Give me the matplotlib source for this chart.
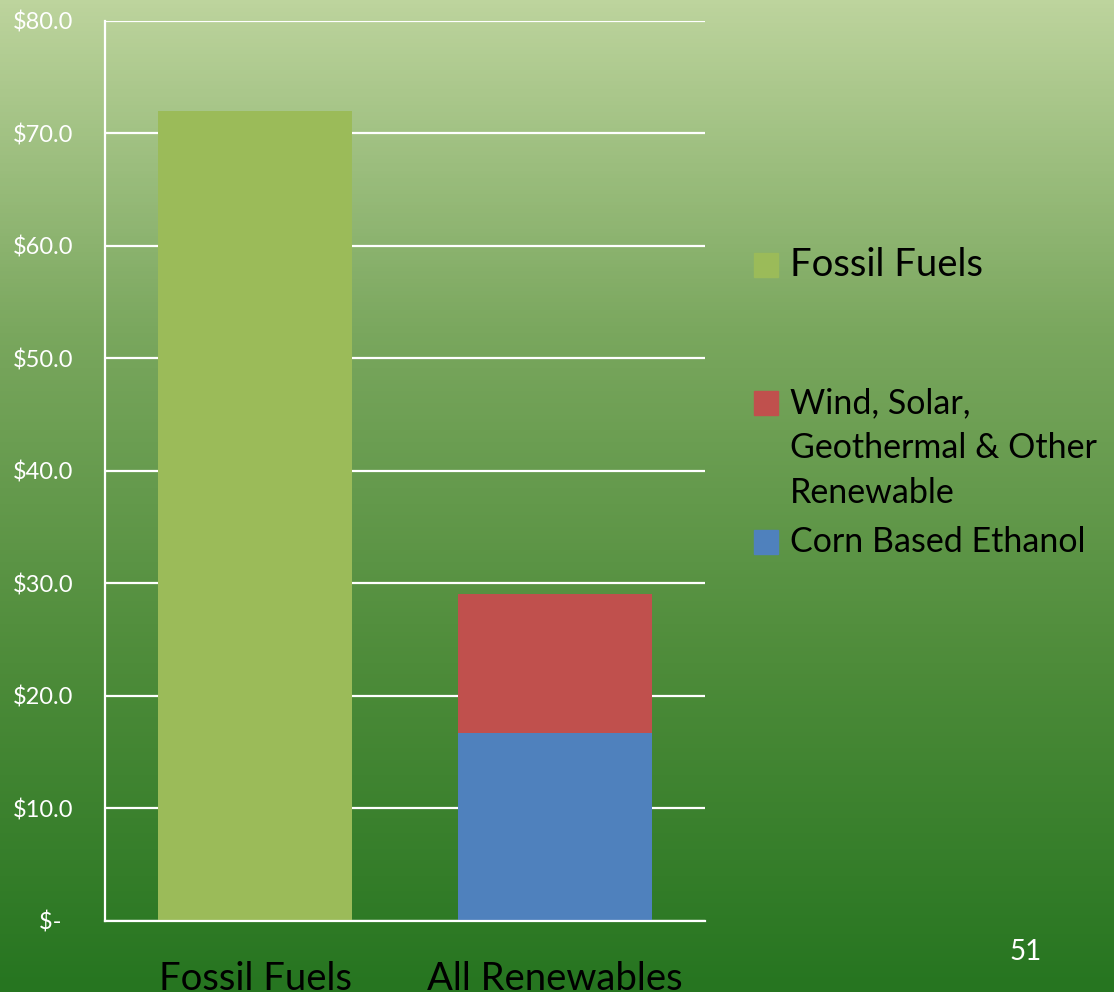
import numpy as np
import matplotlib
matplotlib.use("Agg")
import matplotlib.pyplot as plt
from matplotlib.colors import LinearSegmentedColormap
from matplotlib.patches import Rectangle
from matplotlib.ticker import FuncFormatter

plt.rcParams["font.family"] = ["Lato", "DejaVu Sans"]

# ---- data ----
categories = ["Fossil Fuels", "All Renewables"]
fossil = [72.0, 0.0]
corn_ethanol = [0.0, 16.7]
wind_solar_other = [0.0, 12.3]

legend_labels = ["Fossil Fuels", "Wind, Solar,\nGeothermal & Other\nRenewable", "Corn Based Ethanol"]

GREEN = "#9bbb59"
RED = "#c0504d"
BLUE = "#4f81bd"


def money(v, pos):
    # accounting style: zero shows as a dash
    if abs(v) < 1e-9:
        return "$-  "
    return f"${v:.1f}"


fig = plt.figure(figsize=(11.14, 9.92), dpi=100)

# slide background: vertical green gradient
bg = fig.add_axes([0, 0, 1, 1], zorder=0)
grad = LinearSegmentedColormap.from_list(
    "slide", ["#267520", "#4e8c3a", "#7aa75e", "#bdd49d"])
bg.imshow(np.linspace(0, 1, 256).reshape(-1, 1), aspect="auto", cmap=grad,
          origin="lower", extent=[0, 1, 0, 1])
bg.axis("off")

ax = fig.add_axes([0.0943, 0.0719, 0.5386, 0.9074], zorder=1)
ax.patch.set_alpha(0)

x = np.arange(len(categories))
w = 0.645
ax.bar(x, fossil, w, color=GREEN, zorder=2)
ax.bar(x, corn_ethanol, w, color=BLUE, zorder=2)
ax.bar(x, wind_solar_other, w, bottom=corn_ethanol, color=RED, zorder=2)

ax.set_xlim(-0.5, 1.5)
ax.set_ylim(0, 80)
ax.set_yticks(np.arange(0, 81, 10))
ax.yaxis.set_major_formatter(FuncFormatter(money))
ax.grid(axis="y", color="white", lw=1.6)
ax.set_axisbelow(True)

for s in ["top", "right"]:
    ax.spines[s].set_visible(False)
for s in ["left", "bottom"]:
    ax.spines[s].set_color("white")
    ax.spines[s].set_linewidth(1.6)

ax.tick_params(axis="y", length=0, pad=23, labelsize=17, labelcolor="white")
ax.tick_params(axis="x", length=0, pad=29, labelsize=27.5, labelcolor="black")
ax.set_xticks(x)
ax.set_xticklabels(categories)

# legend drawn beside the plot
sq = 24 / 1114
sqh = 24 / 992
rows = [(265, GREEN, legend_labels[0], 27.5),
        (403, RED, legend_labels[1], 24.5),
        (542, BLUE, legend_labels[2], 24.5)]
for ypx, col, lab, fs in rows:
    yc = 1 - ypx / 992
    fig.patches.append(Rectangle((754 / 1114, yc - sqh / 2), sq, sqh,
                                 transform=fig.transFigure, color=col))
    for i, line in enumerate(lab.split("\n")):
        fig.text(790 / 1114, 1 - (ypx + i * 45) / 992, line, fontsize=fs,
                 color="black", va="center", ha="left")

# slide number
fig.text(1026 / 1114, 1 - 952 / 992, "51", fontsize=20, color="white",
         ha="center", va="center")

fig.savefig("out.png", dpi=100)
